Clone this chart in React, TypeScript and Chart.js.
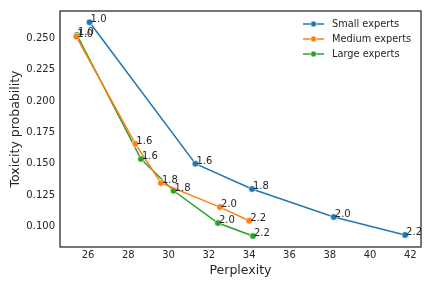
import React, { useEffect, useRef } from "react";
import { Chart, registerables } from "chart.js";

Chart.register(...registerables);

const pointLabels = ["1.0", "1.6", "1.8", "2.0", "2.2"];

const smallPerplexity = [26.08, 31.33, 34.14, 38.2, 41.74];
const smallToxicity = [0.2627, 0.150, 0.1298, 0.1075, 0.0932];

const mediumPerplexity = [25.42, 28.35, 29.62, 32.55, 34.0];
const mediumToxicity = [0.2513, 0.1658, 0.1346, 0.1154, 0.1045];

const largePerplexity = [25.45, 28.63, 30.25, 32.45, 34.19];
const largeToxicity = [0.2526, 0.1537, 0.1284, 0.1027, 0.0924];

const seriesNames = ["Small experts", "Medium experts", "Large experts"];
const seriesColors = ["#1f77b4", "#ff7f0e", "#2ca02c"];

const xTicks = [26, 28, 30, 32, 34, 36, 38, 40, 42];
const yTicks = [0.1, 0.125, 0.15, 0.175, 0.2, 0.225, 0.25];

const FONT = '"DejaVu Sans", sans-serif';
const TEXT = "#262626";

const toPoints = (xs: number[], ys: number[]) => xs.map((x, i) => ({ x, y: ys[i] }));

const decorPlugin = {
  id: "decor",
  afterDatasetsDraw(chart: any) {
    const ctx = chart.ctx;
    const { left, top, right, bottom } = chart.chartArea;
    ctx.save();
    ctx.font = `10px ${FONT}`;
    ctx.fillStyle = TEXT;
    ctx.textAlign = "left";
    ctx.textBaseline = "alphabetic";
    chart.data.datasets.forEach((_ds: any, di: number) => {
      const meta = chart.getDatasetMeta(di);
      meta.data.forEach((pt: any, i: number) => {
        ctx.fillText(pointLabels[i], pt.x + 1, pt.y);
      });
    });
    ctx.strokeStyle = TEXT;
    ctx.lineWidth = 1.25;
    ctx.strokeRect(left, top, right - left, bottom - top);

    // legend
    ctx.font = `9.8px ${FONT}`;
    ctx.textBaseline = "middle";
    chart.data.datasets.forEach((ds: any, di: number) => {
      const y = top + 13 + di * 15;
      const x0 = right - 118;
      ctx.strokeStyle = ds.borderColor;
      ctx.lineWidth = 1.5;
      ctx.beginPath();
      ctx.moveTo(x0, y);
      ctx.lineTo(x0 + 21, y);
      ctx.stroke();
      ctx.fillStyle = ds.borderColor;
      ctx.beginPath();
      ctx.arc(x0 + 10.5, y, 3, 0, Math.PI * 2);
      ctx.fill();
      ctx.strokeStyle = "#fff";
      ctx.lineWidth = 0.6;
      ctx.stroke();
      ctx.fillStyle = TEXT;
      ctx.fillText(ds.label, x0 + 29, y);
    });
    ctx.restore();
  },
};

export default function App() {
  const ref = useRef<HTMLCanvasElement | null>(null);
  useEffect(() => {
    if (!ref.current) return;
    const data = [
      toPoints(smallPerplexity, smallToxicity),
      toPoints(mediumPerplexity, mediumToxicity),
      toPoints(largePerplexity, largeToxicity),
    ];
    const chart = new Chart(ref.current, {
      type: "line",
      data: {
        datasets: data.map((d, i) => ({
          label: seriesNames[i],
          data: d,
          borderColor: seriesColors[i],
          backgroundColor: seriesColors[i],
          pointBackgroundColor: seriesColors[i],
          pointBorderColor: "#ffffff",
          pointBorderWidth: 0.6,
          pointRadius: 3.3,
          borderWidth: 1.5,
          tension: 0,
          fill: false,
        })),
      },
      options: {
        animation: false,
        responsive: false,
        maintainAspectRatio: false,
        devicePixelRatio: 1,
        layout: { padding: { left: 0, right: 11, top: 11, bottom: 0 } },
        plugins: {
          legend: { display: false },
          tooltip: { enabled: false },
        },
        scales: {
          x: {
            type: "linear",
            min: 24.61,
            max: 42.53,
            grid: { display: false, drawTicks: false, tickLength: 0 },
            border: { display: false },
            afterBuildTicks: (s: any) => {
              s.ticks = xTicks.map((v) => ({ value: v }));
            },
            afterFit: (s: any) => {
              s.height = 41;
            },
            ticks: {
              padding: 2,
              color: TEXT,
              font: { family: FONT, size: 10 },
              maxRotation: 0,
              callback: (v: any) => String(v),
            },
            title: {
              display: true,
              text: "Perplexity",
              color: TEXT,
              font: { family: FONT, size: 12.5 },
              padding: { top: 0, bottom: 9.5 },
            },
          },
          y: {
            type: "linear",
            min: 0.0836,
            max: 0.2717,
            grid: { display: false, drawTicks: false, tickLength: 0 },
            border: { display: false },
            afterBuildTicks: (s: any) => {
              s.ticks = yTicks.map((v) => ({ value: v }));
            },
            afterFit: (s: any) => {
              s.width = 60;
            },
            ticks: {
              padding: 5,
              color: TEXT,
              font: { family: FONT, size: 10 },
              callback: (v: any) => Number(v).toFixed(3),
            },
            title: {
              display: true,
              text: "Toxicity probability",
              color: TEXT,
              font: { family: FONT, size: 12.5 },
              padding: { top: 8, bottom: 0 },
            },
          },
        },
      },
      plugins: [decorPlugin],
    } as any);
    return () => chart.destroy();
  }, []);
  return (
    <div style={{ position: "fixed", left: 0, top: 0, width: 432, height: 288, background: "#fff" }}>
      <canvas ref={ref} width={432} height={288} style={{ width: 432, height: 288, display: "block" }} />
    </div>
  );
}
